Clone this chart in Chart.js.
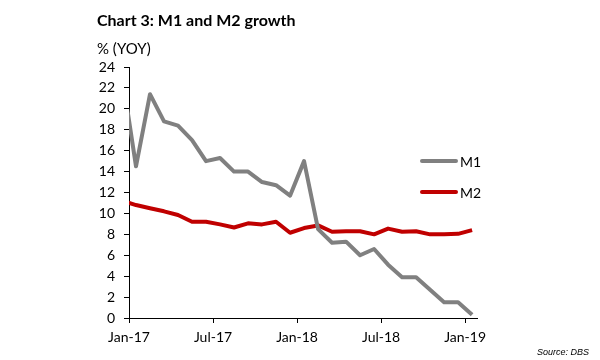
<!DOCTYPE html>
<html>
<head>
<meta charset="utf-8">
<script src="https://cdn.jsdelivr.net/npm/chart.js@4/dist/chart.umd.min.js"></script>
<style>
  body { margin: 0; background: #fff; }
  #wrap { position: relative; width: 600px; height: 360px; }
  #title { position: absolute; left: 97px; top: 10px; font: bold 16px Lato, sans-serif; color: #000; }
  #unit { position: absolute; left: 97px; top: 39px; font: 15px Lato, sans-serif; color: #000; }
  #source { position: absolute; left: 537px; top: 347px; font: italic 9px "Liberation Sans", sans-serif; color: #000; }
</style>
</head>
<body>
<div id="wrap">
  <canvas id="lineChart" width="600" height="360"></canvas>
  <div id="title">Chart 3: M1 and M2 growth</div>
  <div id="unit">% (YOY)</div>
  <div id="source">Source: DBS</div>
</div>
<script>
// monthly series, Dec-16 .. Jan-19 (Dec-16 sits behind the y axis and is clipped)
let months = ['Dec-16', 'Jan-17', 'Feb-17', 'Mar-17', 'Apr-17', 'May-17', 'Jun-17', 'Jul-17', 'Aug-17', 'Sep-17', 'Oct-17', 'Nov-17', 'Dec-17',
              'Jan-18', 'Feb-18', 'Mar-18', 'Apr-18', 'May-18', 'Jun-18', 'Jul-18', 'Aug-18', 'Sep-18', 'Oct-18', 'Nov-18', 'Dec-18', 'Jan-19'];
let m1 = [23.3, 14.5, 21.4, 18.8, 18.4, 17.0, 15.0, 15.3, 14.0, 14.0, 13.0, 12.7, 11.7,
          15.0, 8.5, 7.2, 7.3, 6.0, 6.6, 5.1, 3.9, 3.9, 2.7, 1.5, 1.5, 0.3];
let m2 = [11.2, 10.8, 10.5, 10.2, 9.85, 9.2, 9.2, 8.95, 8.65, 9.05, 8.95, 9.2, 8.15,
          8.6, 8.85, 8.25, 8.3, 8.3, 8.0, 8.55, 8.25, 8.3, 8.0, 8.0, 8.05, 8.4];

let tickMonths = [0, 6, 12, 18, 24];
let tickLabels = ['Jan-17', 'Jul-17', 'Jan-18', 'Jul-18', 'Jan-19'];

let colorM1 = '#808080';
let colorM2 = '#c00000';

// points are plotted mid-month, month 0 = Jan-17
function toPoints(values) {
    return values.map((v, i) => ({ x: i - 0.5, y: v }));
}

let legendPlugin = {
    id: 'sideLegend',
    afterDraw(chart) {
        let c = chart.ctx;
        c.save();
        chart.data.datasets.forEach((ds, i) => {
            let y = 161 + i * 31;
            c.strokeStyle = ds.borderColor;
            c.lineWidth = 4;
            c.lineCap = 'round';
            c.beginPath();
            c.moveTo(422, y);
            c.lineTo(456, y);
            c.stroke();
            c.fillStyle = '#000';
            c.font = '14px Lato';
            c.textBaseline = 'middle';
            c.fillText(ds.label, 460, y + 1);
        });
        c.restore();
    }
};

let ctx = document.getElementById('lineChart').getContext('2d');

let lineChart = new Chart(ctx, {
    type: 'line',
    data: {
        datasets: [{
            label: 'M1',
            data: toPoints(m1),
            borderColor: colorM1,
            borderWidth: 4,
            pointRadius: 0,
            tension: 0,
            borderJoinStyle: 'round',
            clip: 0
        }, {
            label: 'M2',
            data: toPoints(m2),
            borderColor: colorM2,
            borderWidth: 4,
            pointRadius: 0,
            tension: 0,
            borderJoinStyle: 'round',
            clip: 0
        }]
    },
    options: {
        responsive: false,
        animation: false,
        layout: {
            padding: { left: 0, right: 123, top: 67, bottom: 0 }
        },
        plugins: {
            legend: { display: false },
            tooltip: { enabled: false }
        },
        scales: {
            x: {
                type: 'linear',
                min: 0,
                max: 24.85,
                afterBuildTicks: (scale) => {
                    scale.ticks = tickMonths.map(v => ({ value: v }));
                },
                afterFit: (scale) => { scale.height = 42; },
                grid: { drawOnChartArea: false, drawTicks: true, tickLength: 5, color: '#000' },
                border: { display: true, color: '#000', width: 1 },
                ticks: {
                    autoSkip: false,
                    maxRotation: 0,
                    padding: 6,
                    color: '#000',
                    font: { family: 'Lato', size: 14 },
                    callback: (v) => tickLabels[tickMonths.indexOf(v)]
                }
            },
            y: {
                min: 0,
                max: 24,
                afterFit: (scale) => { scale.width = 129; },
                grid: { drawOnChartArea: false, drawTicks: true, tickLength: 5, color: '#000' },
                border: { display: true, color: '#000', width: 1 },
                ticks: {
                    stepSize: 2,
                    padding: 9,
                    color: '#000',
                    font: { family: 'Lato', size: 14 }
                }
            }
        }
    },
    plugins: [legendPlugin]
});
</script>
</body>
</html>
